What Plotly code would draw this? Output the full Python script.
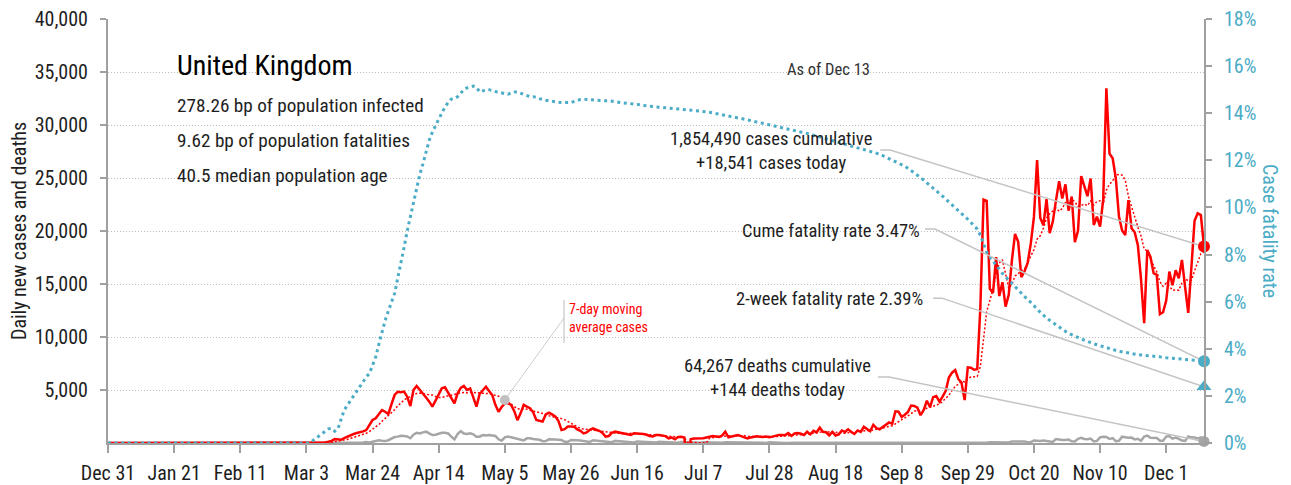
import pandas as pd
import plotly.graph_objects as go

START = "2019-12-31"

# ---- Daily new cases (Dec 31 2019 .. Dec 13 2020) ----
cases_dec_jan = [0, 0, 0, 0, 0, 0, 0, 0, 0, 0, 0, 0, 0, 0, 0, 0, 0, 0, 0, 0, 0, 0, 0, 0, 0, 0, 0, 0, 0, 0, 0, 2]
cases_feb = [0, 0, 0, 0, 0, 1, 0, 0, 1, 4, 0, 0, 0, 0, 0, 0, 0, 0, 0, 0, 0, 0, 0, 0, 4, 0, 2, 5, 3]
cases_mar = [12, 4, 11, 34, 30, 48, 43, 67, 48, 120, 200, 370, 340, 300, 450, 600, 750, 850, 940, 1000,
             1100, 1220, 1700, 2170, 2330, 2700, 3110, 2950, 2730, 3650, 4530]
cases_apr = [4840, 4800, 4850, 4370, 3480, 5000, 5380, 5050, 4690, 4300, 3900, 3430, 4000, 4650, 5160,
             5250, 4750, 4300, 3740, 4690, 5200, 5380, 5000, 5150, 4200, 3430, 4620, 5000, 5310, 4900]
cases_may = [4530, 3600, 2950, 3400, 3740, 3770, 3600, 3000, 2150, 2800, 3600, 3430, 3280, 2900, 2170,
             2100, 2020, 2700, 2860, 2700, 2500, 2100, 1230, 1300, 1550, 1550, 1540, 1290, 1150, 910, 1000]
cases_jun = [1250, 1390, 1250, 1150, 950, 600, 660, 950, 1070, 1000, 950, 850, 800, 750, 910,
             900, 880, 850, 780, 660, 620, 750, 760, 700, 650, 440, 520, 350, 560, 580]
cases_jul = [520, -2500, 350, 420, 440, 400, 450, 520, 600, 660, 620, 580, 700, 1070, 540, 620,
             700, 750, 650, 560, 440, 520, 600, 640, 600, 560, 620, 540, 600, 680, 750]
cases_aug = [744, 742, 938, 670, 892, 950, 871, 758, 1062, 816, 1148, 1009, 1441, 1062, 1012, 713,
             1040, 713, 812, 1182, 1033, 1288, 1041, 853, 1184, 1048, 1522, 1276, 1108, 1715, 1406]
cases_sep = [1295, 1508, 1735, 1940, 1813, 2988, 2948, 2460, 2659, 2919, 3539, 3497, 3330, 2621, 3105,
             3991, 3395, 4322, 4422, 3899, 4368, 4926, 6178, 6634, 6874, 6042, 5693, 4044, 7143, 7108]
cases_oct = [6914, 6968, 12872, 22961, 22850, 14542, 14162, 17540, 13864, 15166, 12872, 13972, 17234,
             19724, 18980, 15650, 16171, 16982, 18804, 21331, 26688, 21242, 20530, 23012, 19790, 20890,
             22885, 24701, 23065, 24405, 21915]
cases_nov = [23254, 18950, 20018, 25177, 24141, 23287, 24957, 20572, 21350, 20412, 22950, 33470, 27301,
             26860, 24962, 21363, 20051, 19609, 22915, 20252, 19875, 18662, 15450, 11299, 18213, 17555,
             16022, 15871, 12155, 12330]
cases_dec = [13430, 16170, 14879, 16298, 15539, 17272, 14718, 12282, 16578, 20964, 21672, 21502, 18541]

# ---- Daily new deaths ----
deaths_dec_jan = [0, 0, 0, 0, 0, 0, 0, 0, 0, 0, 0, 0, 0, 0, 0, 0, 0, 0, 0, 0, 0, 0, 0, 0, 0, 0, 0, 0, 0, 0, 0, 0]
deaths_feb = [0, 0, 0, 0, 0, 0, 0, 0, 0, 0, 0, 0, 0, 0, 0, 0, 0, 0, 0, 0, 0, 0, 0, 0, 0, 0, 0, 0, 0]
deaths_mar = [0, 0, 0, 0, 1, 1, 0, 2, 1, 2, 1, 10, 14, 20, 16, 33, 40, 33, 56, 48, 54, 87, 41, 115,
              181, 260, 209, 180, 260, 380, 560]
deaths_apr = [600, 680, 650, 620, 450, 780, 970, 900, 1000, 1070, 900, 750, 780, 900, 970, 970, 900,
              600, 350, 850, 1130, 900, 850, 910, 820, 600, 600, 750, 700, 750]
deaths_may = [680, 660, 350, 220, 540, 600, 550, 480, 440, 300, 250, 440, 450, 380, 350, 300, 170, 180,
              350, 360, 320, 300, 280, 120, 110, 280, 300, 250, 230, 200, 110]
deaths_jun = [100, 250, 230, 200, 180, 150, 80, 70, 200, 180, 160, 150, 130, 60, 50, 150, 140, 130, 120,
              100, 50, 40, 110, 100, 90, 80, 70, 40, 30, 100]
deaths_jul = [80, 70, 60, 60, 30, 20, 60, 80, 70, 50, 40, 20, 15, 70, 60, 50, 60, 40, 15, 10, 60, 50,
              40, 30, 20, 10, 10, 60, 40, 40, 30]
deaths_aug = [20, 10, 10, 40, 30, 20, 20, 15, 5, 5, 20, 15, 15, 10, 5, 5, 15, 15, 10, 10, 10, 5, 5, 15,
              15, 10, 10, 10, 5, 5, 10]
deaths_sep = [3, 8, 12, 10, 6, 2, 2, 8, 8, 14, 6, 9, 5, 9, 27, 20, 21, 27, 27, 18, 11, 37, 37, 40, 34,
              34, 17, 13, 71, 71]
deaths_oct = [66, 66, 49, 33, 19, 76, 70, 77, 87, 81, 65, 50, 143, 137, 138, 136, 150, 67, 80, 241, 191,
              189, 224, 174, 151, 102, 367, 310, 280, 274, 326]
deaths_nov = [162, 136, 397, 492, 378, 355, 413, 156, 194, 532, 595, 563, 376, 462, 168, 213, 598, 529,
              501, 511, 341, 398, 206, 608, 696, 498, 521, 479, 215, 205]
deaths_dec = [603, 648, 414, 504, 397, 231, 189, 616, 533, 516, 424, 519, 144]

# ---- Cumulative case fatality rate, percent ----
cfr_dec_jan = [0, 0, 0, 0, 0, 0, 0, 0, 0, 0, 0, 0, 0, 0, 0, 0, 0, 0, 0, 0, 0, 0, 0, 0, 0, 0, 0, 0, 0, 0, 0, 0]
cfr_feb = [0, 0, 0, 0, 0, 0, 0, 0, 0, 0, 0, 0, 0, 0, 0, 0, 0, 0, 0, 0, 0, 0, 0, 0, 0, 0, 0, 0, 0]
cfr_mar = [0, 0, 0, 0, 0.1, 0.2, 0.3, 0.4, 0.5, 0.6, 0.62, 0.5, 0.6, 1.0, 1.4, 1.6, 1.8, 2.05, 2.25,
           2.45, 2.6, 2.8, 2.95, 3.3, 3.65, 4.2, 4.75, 5.2, 5.6, 5.95, 6.35]
cfr_apr = [7.0, 7.6, 8.3, 9.0, 9.6, 10.17, 10.88, 11.4, 11.85, 12.35, 12.85, 13.2, 13.5, 13.75, 14.0,
           14.27, 14.45, 14.6, 14.62, 14.7, 14.85, 15.0, 15.08, 15.12, 15.15, 15.1, 14.9, 14.95, 15.0, 15.0]
cfr_may = [14.95, 14.92, 14.9, 14.85, 14.83, 14.81, 14.85, 14.9, 14.9, 14.85, 14.8, 14.75, 14.7, 14.7,
           14.68, 14.62, 14.57, 14.55, 14.53, 14.5, 14.49, 14.47, 14.45, 14.44, 14.44, 14.45, 14.5,
           14.55, 14.58, 14.59, 14.58]
cfr_jun = [14.56, 14.55, 14.53, 14.53, 14.53, 14.53, 14.53, 14.52, 14.5, 14.47, 14.45, 14.44, 14.42,
           14.4, 14.39, 14.38, 14.36, 14.33, 14.31, 14.3, 14.28, 14.27, 14.25, 14.24, 14.23, 14.21,
           14.2, 14.19, 14.18, 14.17]
cfr_jul = [14.16, 14.15, 14.14, 14.12, 14.11, 14.09, 14.08, 14.06, 14.04, 14.01, 13.99, 13.96, 13.94,
           13.91, 13.88, 13.86, 13.83, 13.8, 13.78, 13.75, 13.73, 13.7, 13.67, 13.65, 13.62, 13.59,
           13.56, 13.53, 13.5, 13.47, 13.44]
cfr_aug = [13.41, 13.37, 13.34, 13.31, 13.28, 13.25, 13.22, 13.18, 13.15, 13.11, 13.07, 13.03, 12.99,
           12.95, 12.91, 12.87, 12.83, 12.78, 12.74, 12.7, 12.67, 12.63, 12.6, 12.56, 12.53, 12.5,
           12.46, 12.43, 12.4, 12.36, 12.31]
cfr_sep = [12.26, 12.2, 12.14, 12.08, 12.02, 11.96, 11.89, 11.82, 11.75, 11.66, 11.57, 11.47, 11.37,
           11.27, 11.16, 11.05, 10.94, 10.83, 10.71, 10.6, 10.48, 10.36, 10.23, 10.1, 9.97, 9.84, 9.72,
           9.62, 9.5, 9.36]
cfr_oct = [9.22, 9.08, 8.82, 8.43, 8.1, 7.9, 7.72, 7.52, 7.36, 7.2, 7.06, 6.92, 6.77, 6.62, 6.46, 6.34,
           6.22, 6.1, 5.98, 5.84, 5.68, 5.55, 5.43, 5.31, 5.21, 5.11, 5.02, 4.92, 4.83, 4.74, 4.66]
cfr_nov = [4.59, 4.53, 4.48, 4.42, 4.36, 4.31, 4.26, 4.21, 4.17, 4.13, 4.09, 4.03, 3.99, 3.95, 3.92,
           3.89, 3.87, 3.84, 3.81, 3.79, 3.77, 3.75, 3.74, 3.73, 3.72, 3.71, 3.69, 3.67, 3.65, 3.64]
cfr_dec = [3.62, 3.61, 3.6, 3.59, 3.58, 3.57, 3.56, 3.56, 3.55, 3.53, 3.51, 3.49, 3.47]

# ---- Headline figures ----
CUM_CASES = 1854490
CUM_DEATHS = 64267
TWO_WEEK_CFR = 2.39
AS_OF = "As of Dec 13"
COUNTRY = "United Kingdom"
FACTS = ["278.26 bp of population infected",
         "9.62 bp of population fatalities",
         "40.5 median population age"]
X_TICK_STEP_DAYS = 21

cases = (cases_dec_jan + cases_feb + cases_mar + cases_apr + cases_may + cases_jun + cases_jul
         + cases_aug + cases_sep + cases_oct + cases_nov + cases_dec)
deaths = (deaths_dec_jan + deaths_feb + deaths_mar + deaths_apr + deaths_may + deaths_jun + deaths_jul
          + deaths_aug + deaths_sep + deaths_oct + deaths_nov + deaths_dec)
cfr = (cfr_dec_jan + cfr_feb + cfr_mar + cfr_apr + cfr_may + cfr_jun + cfr_jul + cfr_aug + cfr_sep
       + cfr_oct + cfr_nov + cfr_dec)

start = pd.Timestamp(START)
dates = pd.date_range(start, periods=len(cases), freq="D")
last = dates[-1]
ma7 = pd.Series(cases, dtype=float).rolling(7).mean()


def day(d):
    """Fractional day offset from the series start, as a timestamp."""
    return start + pd.Timedelta(days=d)


# ---- Styling ----
FONT = "Liberation Sans Narrow, Arial Narrow, Roboto Condensed, Liberation Sans, sans-serif"
RED = "#ff0000"
TEAL = "#4bacc6"
GREY = "#a6a6a6"
AXIS = "#a0a0a0"
LEADER = "#c4c4c4"
INK = "#1e1e1e"

# plot-area pixel frame, used to place free text
L, R, T, B = 108, 1204, 19, 443


def px(x):
    return (x - L) / (R - L)


def py(y):
    return (B - y) / (B - T)


fig = go.Figure()

# cumulative fatality rate (right axis)
fig.add_trace(go.Scatter(x=dates, y=cfr, yaxis="y2", mode="lines",
                         line=dict(color=TEAL, width=3, dash="3px,3.6px"), hoverinfo="skip"))
# deaths
fig.add_trace(go.Scatter(x=dates, y=deaths, mode="lines",
                         line=dict(color=GREY, width=2.5), hoverinfo="skip"))
# cases
fig.add_trace(go.Scatter(x=dates, y=cases, mode="lines",
                         line=dict(color=RED, width=2.5), hoverinfo="skip"))
# 7-day moving average of cases
fig.add_trace(go.Scatter(x=dates, y=ma7, mode="lines",
                         line=dict(color=RED, width=1.5, dash="2px,2px"), hoverinfo="skip"))

# leader lines from the labels to the latest values
leaders = [
    ("y", [day(245.2), day(248.3), last], [27640, 27640, cases[-1]]),
    ("y2", [day(259.4), day(262.6), last], [9.08, 9.08, cfr[-1]]),
    ("y2", [day(262.0), day(264.8), last], [6.15, 6.15, TWO_WEEK_CFR]),
    ("y", [day(244.5), day(248.0), last], [6226, 6226, deaths[-1]]),
]
for axis, xs, ys in leaders:
    fig.add_trace(go.Scatter(x=xs, y=ys, yaxis=axis, mode="lines",
                             line=dict(color=LEADER, width=1.5), hoverinfo="skip"))

# callout for the moving-average series
MA_DOT_DAY = 126
fig.add_trace(go.Scatter(x=[dates[MA_DOT_DAY], day(144.8)], y=[ma7[MA_DOT_DAY], 11790], mode="lines",
                         line=dict(color="#cccccc", width=1), hoverinfo="skip"))
fig.add_trace(go.Scatter(x=[day(144.8), day(144.8)], y=[9434, 13490], mode="lines",
                         line=dict(color="#bbbbbb", width=1), hoverinfo="skip"))
fig.add_trace(go.Scatter(x=[dates[MA_DOT_DAY]], y=[ma7[MA_DOT_DAY]], mode="markers",
                         marker=dict(color="#c0c0c0", size=10), hoverinfo="skip"))

# end-point markers
fig.add_trace(go.Scatter(x=[last], y=[deaths[-1]], mode="markers", cliponaxis=False,
                         marker=dict(color=GREY, size=11), hoverinfo="skip"))
fig.add_trace(go.Scatter(x=[last], y=[cases[-1]], mode="markers", cliponaxis=False,
                         marker=dict(color=RED, size=12), hoverinfo="skip"))
fig.add_trace(go.Scatter(x=[last], y=[cfr[-1]], yaxis="y2", mode="markers", cliponaxis=False,
                         marker=dict(color=TEAL, size=12), hoverinfo="skip"))
fig.add_trace(go.Scatter(x=[last], y=[TWO_WEEK_CFR], yaxis="y2", mode="markers", cliponaxis=False,
                         marker=dict(color=TEAL, size=13, symbol="triangle-up"), hoverinfo="skip"))

LABEL_SIZE = 18.5
annotations = [
    dict(x=px(175), y=py(65), text=COUNTRY, font=dict(size=28, color="#000000"),
         xanchor="left", yanchor="middle"),
    dict(x=px(175), y=py(105), text=FACTS[0], font=dict(size=19.2, color=INK),
         xanchor="left", yanchor="middle"),
    dict(x=px(175), y=py(140), text=FACTS[1], font=dict(size=19.2, color=INK),
         xanchor="left", yanchor="middle"),
    dict(x=px(175), y=py(175), text=FACTS[2], font=dict(size=19.2, color=INK),
         xanchor="left", yanchor="middle"),
    dict(x=px(828), y=py(70), text=AS_OF, font=dict(size=16.5, color="#333333"),
         xanchor="center", yanchor="middle"),
    dict(x=px(771), y=py(151),
         text=f"{CUM_CASES:,} cases cumulative<br>+{cases[-1]:,} cases today",
         font=dict(size=LABEL_SIZE, color=INK), xanchor="center", yanchor="middle", align="center"),
    dict(x=px(922), y=py(231), text=f"Cume fatality rate {cfr[-1]:.2f}%",
         font=dict(size=LABEL_SIZE, color=INK), xanchor="right", yanchor="middle"),
    dict(x=px(925), y=py(299), text=f"2-week fatality rate {TWO_WEEK_CFR:.2f}%",
         font=dict(size=LABEL_SIZE, color=INK), xanchor="right", yanchor="middle"),
    dict(x=px(778), y=py(378),
         text=f"{CUM_DEATHS:,} deaths cumulative<br>+{deaths[-1]:,} deaths today",
         font=dict(size=LABEL_SIZE, color=INK), xanchor="center", yanchor="middle", align="center"),
    dict(x=px(567), y=py(318), text="7-day moving<br>average cases",
         font=dict(size=14, color=RED), xanchor="left", yanchor="middle", align="left"),
    dict(x=px(19), y=0.5, text="Daily new cases and deaths", textangle=-90,
         font=dict(size=20, color=INK), xanchor="center", yanchor="middle"),
    dict(x=px(1270), y=0.5, text="Case fatality rate", textangle=90,
         font=dict(size=20, color=TEAL), xanchor="center", yanchor="middle"),
]
for a in annotations:
    a.update(xref="paper", yref="paper", showarrow=False)

fig.update_layout(
    width=1291, height=485,
    margin=dict(l=L, r=1291 - R, t=T, b=485 - B, autoexpand=False),
    paper_bgcolor="white", plot_bgcolor="white",
    font=dict(family=FONT, size=20, color=INK),
    showlegend=False,
    annotations=annotations,
    xaxis=dict(
        type="date", range=[dates[0], last],
        tick0=dates[0], dtick=X_TICK_STEP_DAYS * 86400000, tickformat="%b %-d",
        showgrid=False, zeroline=False,
        showline=True, linecolor=AXIS, linewidth=2,
        ticks="outside", ticklen=8, tickwidth=1.5, tickcolor=AXIS,
        tickfont=dict(size=20, color=INK), ticklabelstandoff=3,
    ),
    yaxis=dict(
        range=[0, 40000], tickvals=list(range(5000, 40001, 5000)), tickformat=",",
        showgrid=True, gridcolor="#bdbdbd", gridwidth=1, griddash="1px,2px",
        zeroline=False, showline=True, linecolor=AXIS, linewidth=2,
        ticks="outside", ticklen=6, tickwidth=1.5, tickcolor=AXIS,
        tickfont=dict(size=20, color=INK), ticklabelstandoff=8,
    ),
    yaxis2=dict(
        overlaying="y", side="right", range=[0, 18], dtick=2, ticksuffix="%",
        showgrid=False, zeroline=False, showline=True, linecolor=AXIS, linewidth=2,
        ticks="outside", ticklen=6, tickwidth=1.5, tickcolor=AXIS,
        tickfont=dict(size=20, color=TEAL), ticklabelstandoff=8,
    ),
)

fig.write_html("out.html")
